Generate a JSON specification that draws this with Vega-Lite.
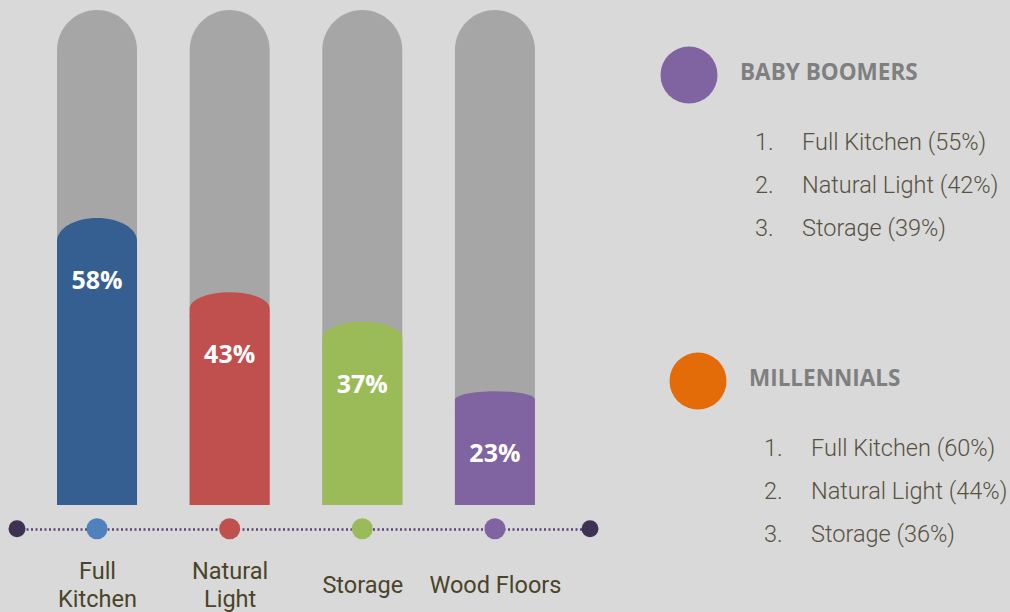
{
  "$schema": "https://vega.github.io/schema/vega-lite/v6.json",
  "width": 1010,
  "height": 612,
  "autosize": {"type": "none"},
  "padding": 0,
  "background": "#d9d9d9",
  "config": {"view": {"stroke": null}, "axisY": {"disable": true}},
  "datasets": {
    "features": [
      {"feature": "Full Kitchen", "share": 0.58},
      {"feature": "Natural Light", "share": 0.43},
      {"feature": "Storage", "share": 0.37},
      {"feature": "Wood Floors", "share": 0.23}
    ],
    "line_ends": [{"end": "left"}, {"end": "right"}],
    "groups": [{"group": "BABY BOOMERS"}, {"group": "MILLENNIALS"}],
    "top3": [
      {"group": "BABY BOOMERS", "num": "1.", "entry": "Full Kitchen (55%)"},
      {"group": "BABY BOOMERS", "num": "2.", "entry": "Natural Light (42%)"},
      {"group": "BABY BOOMERS", "num": "3.", "entry": "Storage (39%)"},
      {"group": "MILLENNIALS", "num": "1.", "entry": "Full Kitchen (60%)"},
      {"group": "MILLENNIALS", "num": "2.", "entry": "Natural Light (44%)"},
      {"group": "MILLENNIALS", "num": "3.", "entry": "Storage (36%)"}
    ]
  },
  "layer": [
    {
      "data": {"name": "features"},
      "encoding": {
        "x": {
          "field": "feature",
          "type": "nominal",
          "sort": null,
          "scale": {"type": "point", "range": [17, 590], "padding": 0.66, "align": 0.457},
          "axis": {
            "orient": "bottom",
            "offset": -83,
            "title": null,
            "grid": false,
            "ticks": false,
            "tickSize": 0,
            "domain": true,
            "domainColor": "#5a4478",
            "domainWidth": 2.5,
            "domainDash": [2, 2.5],
            "labelPadding": 42,
            "labelBaseline": {"condition": {"test": "datum.value == 'Full Kitchen' || datum.value == 'Natural Light'", "value": "middle"}, "value": "line-top"},
            "labelAlign": "center",
            "labelFont": "Roboto",
            "labelFontSize": 23.5,
            "labelColor": "#4a4429",
            "labelLineHeight": 28,
            "labelAngle": 0,
            "labelExpr": "datum.label == 'Full Kitchen' || datum.label == 'Natural Light' ? split(datum.label, ' ') : datum.label"
          }
        }
      },
      "layer": [
        {
          "mark": {"type": "bar", "width": 80, "color": "#a6a6a6", "cornerRadiusTopLeft": 40, "cornerRadiusTopRight": 40},
          "encoding": {
            "y": {"datum": 1, "type": "quantitative", "scale": {"domain": [0, 1], "range": [505, 10]}, "axis": null},
            "y2": {"datum": 0}
          }
        },
        {
          "mark": {"type": "bar", "width": 80, "yOffset": 23},
          "encoding": {
            "y": {"field": "share", "type": "quantitative", "axis": null},
            "y2": {"datum": 0},
            "color": {
              "field": "feature",
              "type": "nominal",
              "scale": {"domain": ["Full Kitchen", "Natural Light", "Storage", "Wood Floors"], "range": ["#355f91", "#c0504d", "#9bbb59", "#8064a2"]},
              "legend": null
            }
          }
        },
        {
          "mark": {"type": "point", "size": 6400, "filled": true, "opacity": 1, "strokeWidth": 0},
          "encoding": {
            "y": {"field": "share", "type": "quantitative", "axis": null},
            "color": {"field": "feature", "type": "nominal", "legend": null},
            "shape": {
              "field": "feature",
              "type": "nominal",
              "scale": {
                "domain": ["Full Kitchen", "Natural Light", "Storage", "Wood Floors"],
                "range": [
                  "M-1,0.6L-1,0.575A1,0.575 0 0 1 1,0.575L1,0.6Z",
                  "M-1,0.6L-1,0.41A1,0.41 0 0 1 1,0.41L1,0.6Z",
                  "M-1,0.6L-1,0.42A1,0.42 0 0 1 1,0.42L1,0.6Z",
                  "M-1,0.6L-1,0.21A1,0.21 0 0 1 1,0.21L1,0.6Z"
                ]
              },
              "legend": null
            }
          }
        },
        {
          "mark": {"type": "text", "dy": 63, "align": "center", "baseline": "middle", "font": "Open Sans", "fontWeight": "bold", "fontSize": 25, "fill": "#ffffff"},
          "encoding": {
            "y": {"field": "share", "type": "quantitative", "axis": null},
            "text": {"field": "share", "type": "quantitative", "format": ".0%"}
          }
        },
        {
          "mark": {"type": "circle", "size": 441, "opacity": 1},
          "encoding": {
            "y": {"datum": -0.048, "type": "quantitative", "axis": null},
            "fill": {
              "field": "feature",
              "type": "nominal",
              "scale": {"domain": ["Full Kitchen", "Natural Light", "Storage", "Wood Floors"], "range": ["#4f81bd", "#c0504d", "#9bbb59", "#8064a2"]},
              "legend": null
            }
          }
        }
      ]
    },
    {
      "data": {"name": "line_ends"},
      "mark": {"type": "circle", "size": 289, "opacity": 1, "color": "#3f3151"},
      "encoding": {
        "x": {"field": "end", "type": "nominal", "sort": null, "scale": {"type": "point", "range": [17, 590], "padding": 0}, "axis": null},
        "y": {"datum": -0.048, "type": "quantitative", "scale": {"domain": [0, 1], "range": [505, 10]}, "axis": null}
      }
    },
    {
      "encoding": {
        "x": {"field": "group", "type": "nominal", "sort": null, "scale": {"type": "point", "domain": ["BABY BOOMERS", "MILLENNIALS"], "range": [689, 698], "padding": 0}, "axis": null},
        "y": {"field": "group", "type": "nominal", "sort": null, "scale": {"type": "point", "domain": ["BABY BOOMERS", "MILLENNIALS"], "range": [75, 381], "padding": 0}, "axis": null}
      },
      "layer": [
        {
          "data": {"name": "groups"},
          "mark": {"type": "circle", "size": 3249, "opacity": 1},
          "encoding": {
            "color": {"field": "group", "type": "nominal", "scale": {"domain": ["BABY BOOMERS", "MILLENNIALS"], "range": ["#8064a2", "#e36c09"]}, "legend": null}
          }
        },
        {
          "data": {"name": "groups"},
          "mark": {"type": "text", "align": "left", "baseline": "middle", "dx": 51, "dy": -2, "font": "Open Sans", "fontWeight": "bold", "fontSize": 22.5, "fill": "#7f7f7f"},
          "encoding": {"text": {"field": "group", "type": "nominal"}}
        },
        {
          "data": {"name": "top3"},
          "mark": {"type": "text", "align": "left", "baseline": "middle", "dx": 66, "dy": 67.5, "font": "Roboto", "fontWeight": 300, "fontSize": 23.5, "fill": "#57513f"},
          "encoding": {
            "yOffset": {"field": "num", "type": "ordinal", "scale": {"type": "point", "domain": ["1.", "2.", "3."], "range": [0, 86], "padding": 0}},
            "text": {"field": "num", "type": "nominal"}
          }
        },
        {
          "data": {"name": "top3"},
          "mark": {"type": "text", "align": "left", "baseline": "middle", "dx": 113, "dy": 67.5, "font": "Roboto", "fontWeight": 300, "fontSize": 23.5, "fill": "#57513f"},
          "encoding": {
            "yOffset": {"field": "num", "type": "ordinal", "scale": {"type": "point", "domain": ["1.", "2.", "3."], "range": [0, 86], "padding": 0}},
            "text": {"field": "entry", "type": "nominal"}
          }
        }
      ]
    }
  ],
  "resolve": {"scale": {"x": "independent", "y": "independent", "color": "independent", "fill": "independent", "shape": "independent", "yOffset": "independent"}}
}
